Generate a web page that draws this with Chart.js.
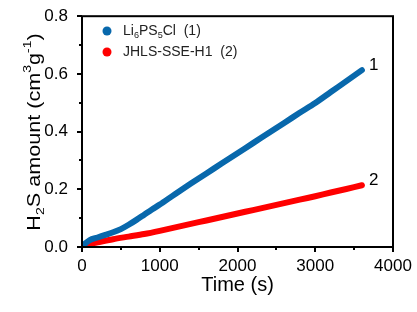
<!DOCTYPE html>
<html lang="en">
<head>
  <meta charset="UTF-8" />
  <title>H2S amount vs time</title>
  <script src="https://cdn.jsdelivr.net/npm/chart.js"></script>
  <style>
    body { margin: 0; background: #ffffff; }
    .chart-box { width: 417px; height: 312px; position: relative; }
  </style>
</head>
<body>
  <div class="chart-box">
    <canvas id="grafik"></canvas>
  </div>

  <script>
    // time (s) and H2S amount (cm3 g-1)
    const timeLi = [0, 100, 200, 300, 400, 500, 600, 700, 800, 900, 1000, 1200, 1400, 1600, 1800, 2000, 2200, 2400, 2600, 2800, 3000, 3200, 3400, 3600];
    const amountLi = [0.003, 0.024, 0.033, 0.042, 0.051, 0.062, 0.077, 0.094, 0.112, 0.130, 0.147, 0.184, 0.220, 0.255, 0.290, 0.325, 0.360, 0.395, 0.430, 0.465, 0.499, 0.537, 0.575, 0.613];
    const timeJH = [0, 100, 200, 400, 600, 800, 1000, 1200, 1400, 1600, 1800, 2000, 2200, 2400, 2600, 2800, 3000, 3200, 3400, 3600];
    const amountJH = [0.002, 0.010, 0.016, 0.027, 0.036, 0.045, 0.056, 0.068, 0.080, 0.092, 0.104, 0.116, 0.128, 0.140, 0.152, 0.164, 0.176, 0.189, 0.201, 0.214];
    const xTicks = [0, 1000, 2000, 3000, 4000];
    const yTicks = [0.0, 0.2, 0.4, 0.6, 0.8];
    const seriesNames = [['Li', '6', 'PS', '5', 'Cl  (1)'], ['JHLS-SSE-H1  (2)']];
    const endLabels = ['1', '2'];

    const BLUE = '#0868ac';
    const RED = '#ff0000';
    const FONT = 'Arial, "Liberation Sans", sans-serif';

    const toPts = (xs, ys) => xs.map((x, i) => ({ x: x, y: ys[i] }));

    // draws text pieces, with sub/superscripts where marked
    function drawRich(ctx, parts, x, y, size) {
      let cx = x;
      parts.forEach(p => {
        const small = p.script;
        ctx.font = (small ? size * 0.65 : size) + 'px ' + FONT;
        const dy = small ? (p.script === 'sub' ? size * 0.3 : -size * 0.4) : 0;
        ctx.fillText(p.t, cx, y + dy);
        cx += ctx.measureText(p.t).width;
      });
      return cx - x;
    }
    function richWidth(ctx, parts, size) {
      let w = 0;
      parts.forEach(p => {
        ctx.font = (p.script ? size * 0.65 : size) + 'px ' + FONT;
        w += ctx.measureText(p.t).width;
      });
      return w;
    }

    const framePlugin = {
      id: 'frame',
      afterDraw(chart) {
        const { ctx, chartArea: a, scales } = chart;
        const xs = scales.x, ys = scales.y;
        ctx.save();
        ctx.strokeStyle = '#000';
        ctx.lineWidth = 2;
        ctx.strokeRect(a.left, a.top, a.right - a.left, a.bottom - a.top);
        // ticks, outward
        ctx.beginPath();
        for (let v = 0; v <= 4000; v += 500) {
          const px = Math.round(xs.getPixelForValue(v));
          const len = v % 1000 === 0 ? 5 : 3;
          ctx.moveTo(px, a.bottom);
          ctx.lineTo(px, a.bottom + len);
        }
        for (let k = 0; k <= 8; k++) {
          const py = Math.round(ys.getPixelForValue(k / 10));
          const len = k % 2 === 0 ? 5 : 3;
          ctx.moveTo(a.left, py);
          ctx.lineTo(a.left - len, py);
        }
        ctx.stroke();

        // legend
        ctx.textBaseline = 'middle';
        const legY = [31, 52];
        [BLUE, RED].forEach((c, i) => {
          ctx.fillStyle = c;
          ctx.beginPath();
          ctx.arc(107, legY[i], 4.5, 0, Math.PI * 2);
          ctx.fill();
        });
        ctx.fillStyle = '#222';
        ctx.textAlign = 'left';
        const n1 = seriesNames[0];
        drawRich(ctx, [{ t: n1[0] }, { t: n1[1], script: 'sub' }, { t: n1[2] }, { t: n1[3], script: 'sub' }, { t: n1[4] }], 123, legY[0], 14);
        drawRich(ctx, [{ t: seriesNames[1][0] }], 123, legY[1], 14);

        // end labels
        ctx.fillStyle = '#000';
        ctx.font = '17px ' + FONT;
        const last = [[timeLi, amountLi], [timeJH, amountJH]];
        last.forEach((s, i) => {
          const t = s[0][s[0].length - 1], v = s[1][s[1].length - 1];
          ctx.fillText(endLabels[i], xs.getPixelForValue(t) + 7, ys.getPixelForValue(v) - 5);
        });

        // axis titles
        ctx.textAlign = 'center';
        ctx.font = '20px ' + FONT;
        ctx.fillText('Time (s)', (a.left + a.right) / 2, 285);

        ctx.translate(35, 132);
        ctx.rotate(-Math.PI / 2);
        ctx.scale(1.2, 1);
        const yParts = [{ t: 'H' }, { t: '2', script: 'sub' }, { t: 'S amount (cm' }, { t: '3', script: 'sup' }, { t: 'g' }, { t: '-1', script: 'sup' }, { t: ')' }];
        ctx.textAlign = 'left';
        const w = richWidth(ctx, yParts, 18);
        drawRich(ctx, yParts, -w / 2, 0, 18);
        ctx.restore();
      }
    };

    const ctx = document.getElementById('grafik').getContext('2d');
    const chart = new Chart(ctx, {
      type: 'line',
      data: {
        datasets: [
          {
            label: 'Li6PS5Cl (1)',
            data: toPts(timeLi, amountLi),
            borderColor: BLUE,
            borderWidth: 6,
            borderCapStyle: 'round',
            pointRadius: 0,
            tension: 0.3
          },
          {
            label: 'JHLS-SSE-H1 (2)',
            data: toPts(timeJH, amountJH),
            borderColor: RED,
            borderWidth: 6,
            borderCapStyle: 'round',
            pointRadius: 0,
            tension: 0.3
          }
        ]
      },
      options: {
        responsive: true,
        maintainAspectRatio: false,
        animation: false,
        layout: { padding: { top: 16, right: 24, left: 0, bottom: 0 } },
        scales: {
          x: {
            type: 'linear',
            min: 0, max: 4000,
            afterBuildTicks: s => { s.ticks = xTicks.map(v => ({ value: v })); },
            afterFit: s => { s.height = 65; },
            grid: { display: false },
            border: { display: false },
            ticks: { color: '#000', font: { size: 17, family: FONT }, padding: 1, maxRotation: 0, callback: v => String(v) }
          },
          y: {
            min: 0, max: 0.8,
            afterBuildTicks: s => { s.ticks = yTicks.map(v => ({ value: v })); },
            afterFit: s => { s.width = 82; },
            grid: { display: false },
            border: { display: false },
            ticks: { color: '#000', font: { size: 17, family: FONT }, padding: 6, callback: v => v.toFixed(1) }
          }
        },
        plugins: {
          legend: { display: false },
          tooltip: { enabled: false }
        }
      },
      plugins: [framePlugin]
    });
  </script>
</body>
</html>
